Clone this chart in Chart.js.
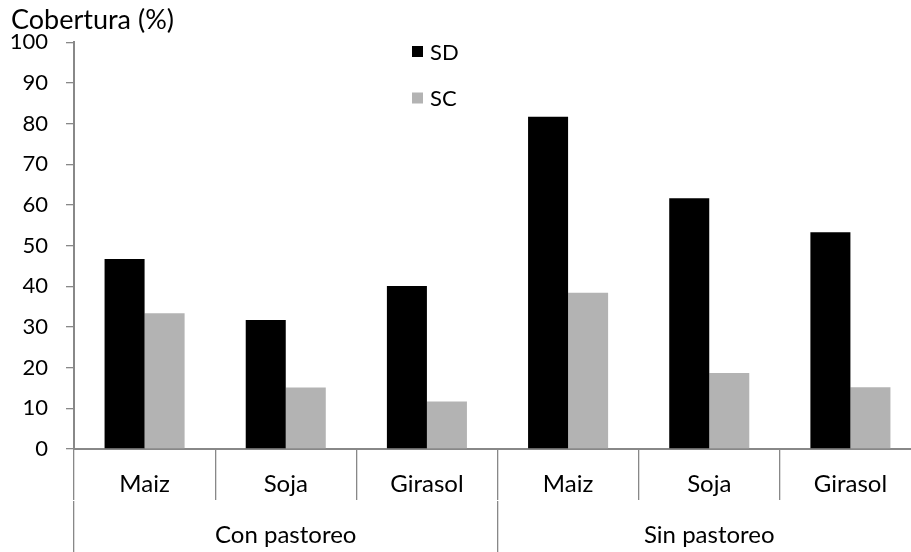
<!DOCTYPE html>
<html>
<head>
<meta charset="utf-8">
<script src="https://cdn.jsdelivr.net/npm/chart.js@4"></script>
<style>
    html, body { margin: 0; padding: 0; overflow: hidden; background: #fff; }
    #wrap { position: relative; width: 930px; height: 552px; }
</style>
</head>
<body>
<div id="wrap"><canvas id="coverChart"></canvas></div>
<script>
// data
const cultivos = ['Maiz', 'Soja', 'Girasol', 'Maiz', 'Soja', 'Girasol'];
const manejo = ['Con pastoreo', 'Sin pastoreo'];
const sd = [46.7, 31.7, 40.1, 81.7, 61.7, 53.3];
const sc = [33.4, 15.1, 11.7, 38.4, 18.7, 15.2];
const yMin = 0, yMax = 100, yStep = 10;

const FONT = 'Lato';
const AXIS = '#888888';

Chart.defaults.font.family = FONT;
Chart.defaults.color = '#000';

// legend sits inside the plot, like the original
const legendBox = {
    id: 'legendBox',
    afterDraw(chart) {
        const ctx = chart.ctx;
        const x = chart.chartArea.left + 338;
        let y = 51.5;
        ctx.save();
        ctx.font = '22px ' + FONT;
        ctx.textBaseline = 'middle';
        chart.data.datasets.forEach(ds => {
            ctx.fillStyle = ds.backgroundColor;
            ctx.fillRect(x, y - 5.5, 11, 11);
            ctx.fillStyle = '#000';
            ctx.fillText(ds.label, x + 18, y + 1);
            y += 46.5;
        });
        ctx.restore();
    }
};

const ctx = document.getElementById('coverChart').getContext('2d');
const coverChart = new Chart(ctx, {
    type: 'bar',
    data: {
        labels: cultivos,
        datasets: [{
            label: 'SD',
            data: sd,
            backgroundColor: '#000000',
            borderWidth: 0
        },
        {
            label: 'SC',
            data: sc,
            backgroundColor: '#b3b3b3',
            borderWidth: 0
        }]
    },
    options: {
        responsive: true,
        maintainAspectRatio: false,
        animation: false,
        datasets: {
            bar: {
                categoryPercentage: 0.567,
                barPercentage: 1.0
            }
        },
        layout: {
            padding: { left: 11, right: 9, top: 0, bottom: 0 }
        },
        plugins: {
            legend: { display: false },
            tooltip: { enabled: false },
            title: {
                display: true,
                text: 'Cobertura (%)',
                align: 'start',
                color: '#000',
                font: { size: 27, weight: 'normal' },
                padding: { top: 4, bottom: 6 }
            }
        },
        scales: {
            y: {
                min: yMin,
                max: yMax,
                afterFit: (s) => { s.width = 63; },
                ticks: {
                    stepSize: yStep,
                    padding: 18,
                    font: { size: 22 },
                    color: '#000'
                },
                grid: {
                    drawOnChartArea: false,
                    tickLength: 8,
                    color: AXIS,
                    lineWidth: 1.3
                },
                border: { color: AXIS, width: 2 }
            },
            x: {
                afterFit: (s) => { s.height = 52; },
                grid: {
                    offset: true,
                    drawOnChartArea: false,
                    tickLength: 51,
                    color: AXIS,
                    lineWidth: 1.3
                },
                ticks: {
                    padding: -30,
                    font: { size: 24 },
                    color: '#000',
                    maxRotation: 0,
                    autoSkip: false
                },
                border: { color: AXIS, width: 2 }
            },
            x2: {
                type: 'category',
                position: 'bottom',
                labels: manejo,
                afterFit: (s) => { s.height = 51; },
                grid: {
                    offset: true,
                    drawOnChartArea: false,
                    tickLength: 60,
                    color: AXIS,
                    lineWidth: 1.3
                },
                ticks: {
                    padding: -40,
                    font: { size: 24 },
                    color: '#000',
                    maxRotation: 0,
                    autoSkip: false
                },
                border: { display: false }
            }
        }
    },
    plugins: [legendBox]
});
</script>
</body>
</html>
